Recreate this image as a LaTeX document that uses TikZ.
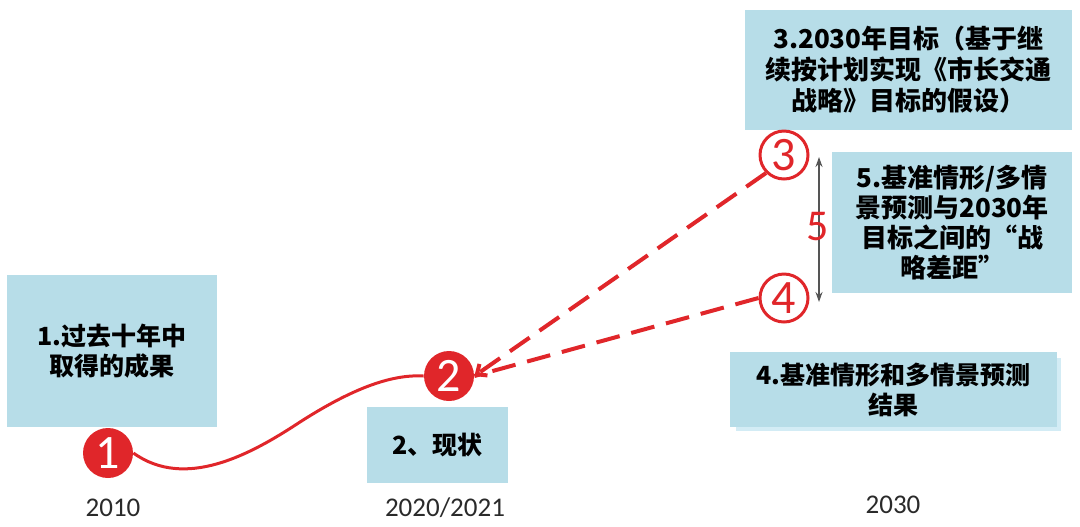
\documentclass[tikz,border=0pt]{standalone}
\usepackage{fontspec}
\setmainfont{Carlito}
\newfontfamily\cjk{Noto Sans CJK SC}
\usetikzlibrary{arrows.meta,positioning,calc}
\definecolor{boxblue}{HTML}{B7DDE8}
\definecolor{shadowblue}{HTML}{D3ECF5}
\definecolor{linered}{HTML}{E0262A}
\definecolor{yeargray}{HTML}{2A2A2A}
\begin{document}
\begin{tikzpicture}
[x=0.5pt,y=-0.5pt,
 box/.style={fill=boxblue,inner sep=0pt,align=center,
   font=\cjk\bfseries\fontsize{12.5}{15}\selectfont},
 fullstep/.style={circle,fill=linered,text=white,inner sep=0pt,
   minimum size=25pt,font=\fontsize{24}{24}\selectfont},
 openstep/.style={circle,draw=linered,line width=1.5pt,text=linered,
   inner sep=0pt,minimum size=24pt,font=\fontsize{24}{24}\selectfont},
 year/.style={text=yeargray,font=\fontsize{13.5}{13.5}\selectfont},
 dashline/.style={linered,line width=2pt,dash pattern=on 12pt off 6pt}]
\useasboundingbox (0,0) rectangle (1080,526);

% boxes
\node (b1) at (112,351) [box,minimum width=105pt,minimum height=76pt]
  {1.过去十年中\\取得的成果};
\node (b2) at (437.5,445) [box,minimum width=70.5pt,minimum height=38pt]
  {2、现状};
\node (b3) at (908.5,70) [box,minimum width=163.5pt,minimum height=60pt,
  font=\cjk\bfseries\fontsize{13}{15.5}\selectfont]
  {3.2030年目标（基于继\\续按计划实现《市长交通\\战略》目标的假设）};
\node (b5) at (952,222.5) [box,minimum width=120pt,minimum height=70.5pt,
  font=\cjk\bfseries\fontsize{13}{15}\selectfont]
  {5.基准情形/多情\\景预测与2030年\\目标之间的“战\\略差距”};
\fill[shadowblue] (736,358) rectangle (1061,431);
\node (b4) at (893.5,389.5) [box,minimum width=163.5pt,minimum height=37.5pt]
  {4.基准情形和多情景预测\\结果};

% steps
\node (c1) at (108,453) [fullstep] {1};
\node (c2) at (449,376) [fullstep] {2};
\node (c3) at (784,155) [openstep] {3};
\node (c4) at (784,298) [openstep] {4};

% path so far
\draw[linered,line width=1.5pt] (c1.east) .. controls (185,490) and (250,455) .. (300,422)
  .. controls (350,390) and (390,374) .. (c2.west);
\draw[dashline,-{Straight Barb[length=4pt,width=7pt]}] (c3.south west) -- (c2.east);
\draw[dashline] (c4.west) -- (c2.east);

% gap
\coordinate (g3) at (819,157);
\coordinate (g4) at (819,302);
\draw[yeargray!80,line width=0.8pt,{Stealth[length=5pt,width=3.5pt]}-{Stealth[length=5pt,width=3.5pt]}] (g3) -- (g4);
\node (gap) at (818,227) [text=linered,font=\fontsize{22}{22}\selectfont] {5};

% years
\node (y1) at (113,508) [year] {2010};
\node (y2) at (445,508) [year] {2020/2021};
\node (y3) at (893,505) [year] {2030};
\end{tikzpicture}
\end{document}
